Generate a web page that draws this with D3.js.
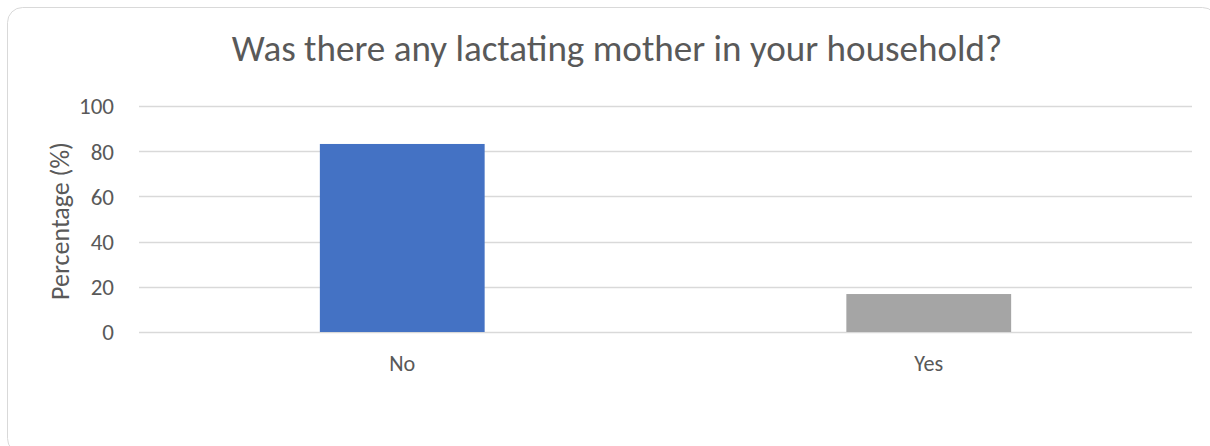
<!DOCTYPE html>
<html>
<head>
<meta charset="utf-8">
<script src="https://cdn.jsdelivr.net/npm/d3@7"></script>
<style>
  html, body { margin: 0; padding: 0; background: #fff; }
  svg { display: block; }
  svg text { font-family: Calibri, Carlito, "Open Sans", sans-serif; }
</style>
</head>
<body>
<svg id="chart" width="1210" height="446"></svg>
<script>
// chart data
const categories = ['No', 'Yes'];
const values = [83.2, 16.8];
const yTicks = [0, 20, 40, 60, 80, 100];
const barColors = ['#4472C4', '#A5A5A5'];
const title = 'Was there any lactating mother in your household?';
const yLabel = 'Percentage (%)';

const svg = d3.select('#chart');
const width = 1210;
const height = 446;
const margin = { top: 106, right: 18, bottom: 114, left: 139 };

// font size that makes a text as wide as target
function fitSize(sel, baseSize, target) {
  sel.style('font-size', baseSize + 'px');
  const w = sel.node().getComputedTextLength();
  return (baseSize * target / w).toFixed(1) + 'px';
}

// outer frame, partly cut off at right and bottom like the reference
svg.append('rect')
  .attr('x', 7.5).attr('y', 7.5)
  .attr('width', 1210).attr('height', 446)
  .attr('rx', 15).attr('ry', 15)
  .attr('fill', '#fff')
  .attr('stroke', '#d9d9d9')
  .attr('stroke-width', 1);

const scaleX = d3.scaleBand()
  .domain(categories)
  .range([margin.left, width - margin.right]);

const scaleY = d3.scaleLinear()
  .domain([0, 100])
  .range([height - margin.bottom, margin.top]);

// gridlines
svg.append('g')
  .attr('class', 'grid')
  .selectAll('line')
  .data(yTicks)
  .enter()
  .append('line')
  .attr('x1', margin.left)
  .attr('x2', width - margin.right)
  .attr('y1', d => Math.round(scaleY(d)) + 0.5)
  .attr('y2', d => Math.round(scaleY(d)) + 0.5)
  .attr('stroke', '#d9d9d9')
  .attr('stroke-width', 1.3);

// bars, ~31% of each band, centred
const barW = scaleX.bandwidth() * 0.313;
svg.append('g')
  .selectAll('rect')
  .data(values)
  .enter()
  .append('rect')
  .attr('x', (d, i) => scaleX(categories[i]) + (scaleX.bandwidth() - barW) / 2)
  .attr('y', d => scaleY(d))
  .attr('width', barW)
  .attr('height', d => scaleY(0) - scaleY(d))
  .attr('fill', (d, i) => barColors[i]);

// y axis (labels only)
const yAxis = svg.append('g')
  .attr('transform', 'translate(' + (margin.left - 22) + ',0)')
  .call(d3.axisLeft(scaleY).tickValues(yTicks).tickSize(0))
  .attr('font-family', null)
  .attr('font-size', null);
yAxis.select('.domain').remove();
const yText = yAxis.selectAll('text')
  .attr('fill', '#595959')
  .attr('dx', 0)
  .attr('dy', '0.34em');
yText.style('font-size', fitSize(yText.filter(d => d === 100), 17, 35));

// x axis (labels only)
const xAxis = svg.append('g')
  .attr('transform', 'translate(0,' + (height - margin.bottom + 20) + ')')
  .call(d3.axisBottom(scaleX).tickSize(0))
  .attr('font-family', null)
  .attr('font-size', null);
xAxis.select('.domain').remove();
const xText = xAxis.selectAll('text').attr('fill', '#595959');
xText.style('font-size', fitSize(xText.filter(d => d === 'No'), 16, 26));

// y label
const yl = svg.append('text')
  .attr('transform', 'translate(69,221) rotate(-90)')
  .attr('text-anchor', 'middle')
  .attr('fill', '#595959')
  .text(yLabel);
yl.style('font-size', fitSize(yl, 18, 158));

// title, sized to fill the same width as the reference
const t = svg.append('text')
  .attr('x', 617)
  .attr('y', 61)
  .attr('text-anchor', 'middle')
  .attr('fill', '#595959')
  .text(title);
t.style('font-size', fitSize(t, 26, 771));
</script>
</body>
</html>
